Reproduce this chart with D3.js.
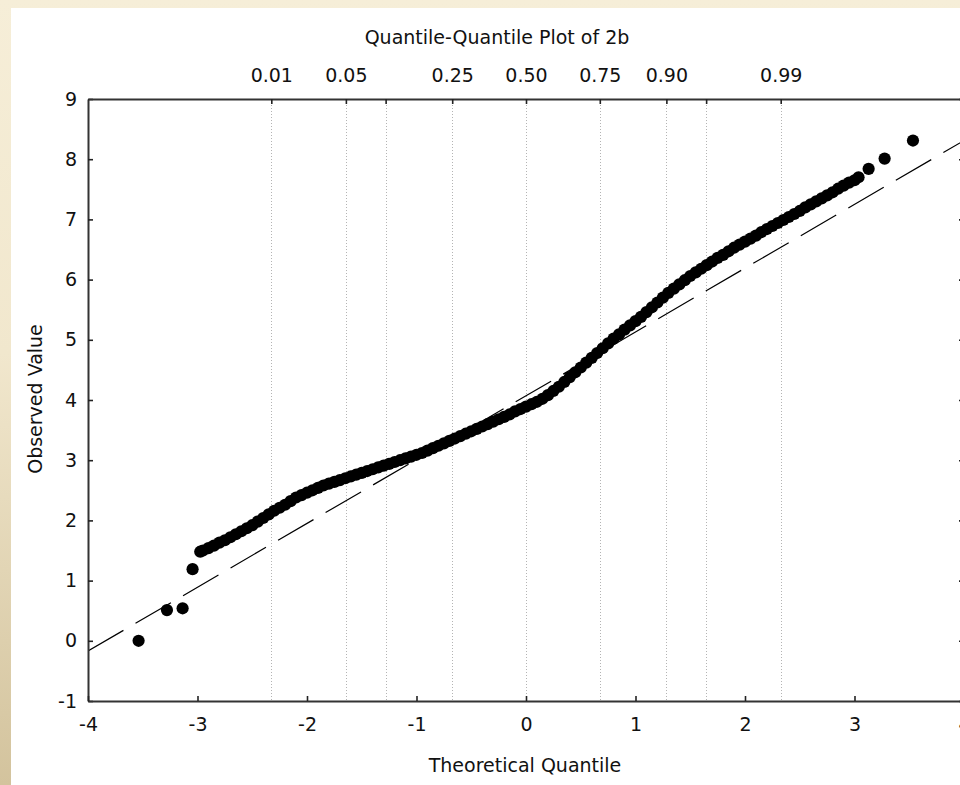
<!DOCTYPE html>
<html>
<head>
<meta charset="utf-8">
<script src="https://cdn.jsdelivr.net/npm/d3@7"></script>
<style>
  html, body { margin: 0; padding: 0; background: #F4EBD3; }
  svg { display: block; }
  text { font-family: "DejaVu Sans", Verdana, sans-serif; fill: #111; }
</style>
</head>
<body>
<svg id="chart" width="960" height="785"></svg>
<script>
// ---------------- DATA ----------------
const chartTitle = "Quantile-Quantile Plot of 2b";
const xTitle = "Theoretical Quantile";
const yTitle = "Observed Value";

const xTicks = [-4, -3, -2, -1, 0, 1, 2, 3, 4];
const yTicks = [-1, 0, 1, 2, 3, 4, 5, 6, 7, 8, 9];

// top axis: normal quantiles of the cumulative probabilities
const probTickZ = [-2.326, -1.645, -1.282, -0.674, 0, 0.674, 1.282, 1.645, 2.326];
const probTickLabels = ["0.01", "0.05", "", "0.25", "0.50", "0.75", "0.90", "", "0.99"];

// reference (fitted normal) line: observed = intercept + slope * theoretical
const lineIntercept = 4.07;
const lineSlope = 1.06;

const theoretical = [
  -3.538, -3.279, -3.136, -3.045, -2.975,
  -2.95, -2.90, -2.85, -2.80, -2.75, -2.70, -2.65, -2.60, -2.55, -2.50,
  -2.45, -2.40, -2.35, -2.30, -2.25, -2.20, -2.15, -2.10, -2.05, -2.00,
  -1.95, -1.90, -1.85, -1.80, -1.75, -1.70, -1.65, -1.60, -1.55, -1.50,
  -1.45, -1.40, -1.35, -1.30, -1.25, -1.20, -1.15, -1.10, -1.05, -1.00,
  -0.95, -0.90, -0.85, -0.80, -0.75, -0.70, -0.65, -0.60, -0.55, -0.50,
  -0.45, -0.40, -0.35, -0.30, -0.25, -0.20, -0.15, -0.10, -0.05, 0.00,
  0.05, 0.10, 0.15, 0.20, 0.25, 0.30, 0.35, 0.40, 0.45, 0.50,
  0.55, 0.60, 0.65, 0.70, 0.75, 0.80, 0.85, 0.90, 0.95, 1.00,
  1.05, 1.10, 1.15, 1.20, 1.25, 1.30, 1.35, 1.40, 1.45, 1.50,
  1.55, 1.60, 1.65, 1.70, 1.75, 1.80, 1.85, 1.90, 1.95, 2.00,
  2.05, 2.10, 2.15, 2.20, 2.25, 2.30, 2.35, 2.40, 2.45, 2.50,
  2.55, 2.60, 2.65, 2.70, 2.75, 2.80, 2.85, 2.90, 2.95, 3.00,
  3.037, 3.129, 3.275, 3.534
];
const observed = [
  0.00, 0.51, 0.54, 1.19, 1.48,
  1.50, 1.54, 1.58, 1.63, 1.67, 1.72, 1.77, 1.82, 1.87, 1.92,
  1.98, 2.04, 2.10, 2.16, 2.21, 2.26, 2.32, 2.38, 2.42, 2.46,
  2.50, 2.54, 2.58, 2.61, 2.64, 2.67, 2.70, 2.73, 2.76, 2.79,
  2.82, 2.85, 2.88, 2.91, 2.94, 2.97, 3.00, 3.03, 3.06, 3.09,
  3.12, 3.16, 3.20, 3.24, 3.28, 3.32, 3.36, 3.40, 3.44, 3.48,
  3.52, 3.56, 3.60, 3.64, 3.68, 3.72, 3.76, 3.81, 3.85, 3.89,
  3.93, 3.97, 4.02, 4.08, 4.15, 4.22, 4.30, 4.38, 4.46, 4.54,
  4.62, 4.70, 4.78, 4.86, 4.94, 5.02, 5.09, 5.17, 5.24, 5.31,
  5.38, 5.46, 5.54, 5.62, 5.70, 5.78, 5.85, 5.92, 5.99, 6.06,
  6.12, 6.18, 6.24, 6.30, 6.36, 6.41, 6.47, 6.53, 6.58, 6.63,
  6.68, 6.73, 6.79, 6.84, 6.89, 6.94, 6.99, 7.04, 7.09, 7.14,
  7.20, 7.25, 7.30, 7.35, 7.40, 7.45, 7.51, 7.56, 7.61, 7.65,
  7.70, 7.84, 8.01, 8.31
];

// ---------------- DRAW ----------------
const W = 960, H = 785;
const svg = d3.select("#chart");

// background frame gradient
const defs = svg.append("defs");
const grad = defs.append("linearGradient").attr("id", "bg").attr("x1", 0).attr("y1", 0).attr("x2", 0).attr("y2", 1);
grad.append("stop").attr("offset", "0%").attr("stop-color", "#F6EED8");
grad.append("stop").attr("offset", "45%").attr("stop-color", "#F1E7CD");
grad.append("stop").attr("offset", "100%").attr("stop-color", "#D3C39D");
svg.append("rect").attr("width", W).attr("height", H).attr("fill", "url(#bg)");
svg.append("rect").attr("x", 11).attr("y", 8).attr("width", W - 11).attr("height", H - 8).attr("fill", "#fff");

const plot = { left: 88, right: 964, top: 99, bottom: 701 };
const x = d3.scaleLinear().domain([-4, 4]).range([plot.left, plot.right]);
const y = d3.scaleLinear().domain([-1, 9]).range([plot.bottom, plot.top]);

defs.append("clipPath").attr("id", "clip")
  .append("rect").attr("x", plot.left).attr("y", plot.top)
  .attr("width", plot.right - plot.left).attr("height", plot.bottom - plot.top);

// dotted grid lines at probability quantiles
svg.append("g").selectAll("line").data(probTickZ).join("line")
  .attr("x1", d => Math.round(x(d)) + 0.5).attr("x2", d => Math.round(x(d)) + 0.5)
  .attr("y1", plot.top).attr("y2", plot.bottom)
  .attr("stroke", "#b4b4b4").attr("stroke-width", 1).attr("stroke-dasharray", "1,2");

// reference dashed line
const lineData = [-4, 4].map(t => [t, lineIntercept + lineSlope * t]);
svg.append("path")
  .attr("clip-path", "url(#clip)")
  .attr("d", d3.line().x(d => x(d[0])).y(d => y(d[1]))(lineData))
  .attr("fill", "none").attr("stroke", "#000").attr("stroke-width", 1.2)
  .attr("stroke-dasharray", "41,14");

// points
const pts = theoretical.map((t, i) => ({ t, v: observed[i] }));
svg.append("g").attr("clip-path", "url(#clip)")
  .selectAll("circle").data(pts).join("circle")
  .attr("cx", d => x(d.t)).attr("cy", d => y(d.v)).attr("r", 6.1)
  .attr("fill", "#000");

// axes
const fs = "19px";
const fmt = d => String(d);
function styleAxis(g) {
  g.select(".domain").attr("stroke", "#333").attr("stroke-width", 2);
  g.selectAll(".tick line").attr("stroke", "#222").attr("stroke-width", 1.6);
  g.selectAll(".tick text").attr("font-family", "DejaVu Sans").style("font-size", fs).attr("fill", "#111");
}

svg.append("g").attr("transform", `translate(${plot.left},0)`)
  .call(d3.axisLeft(y).tickValues(yTicks).tickFormat(fmt).tickSizeInner(-5).tickSizeOuter(0).tickPadding(11))
  .call(styleAxis);

svg.append("g").attr("transform", `translate(${plot.right},0)`)
  .call(d3.axisRight(y).tickValues(yTicks).tickFormat("").tickSizeInner(-5).tickSizeOuter(0))
  .call(styleAxis);

svg.append("g").attr("transform", `translate(0,${plot.bottom})`)
  .call(d3.axisBottom(x).tickValues(xTicks).tickFormat(fmt).tickSizeInner(-5).tickSizeOuter(0).tickPadding(17))
  .call(styleAxis);

svg.append("g").attr("transform", `translate(0,${plot.top})`)
  .call(d3.axisTop(x).tickValues(probTickZ).tickFormat((d, i) => probTickLabels[i]).tickSizeInner(-5).tickSizeOuter(0).tickPadding(17))
  .call(styleAxis);

// titles
svg.append("text").attr("x", 497).attr("y", 44).attr("text-anchor", "middle")
  .style("font-size", fs).text(chartTitle);
svg.append("text").attr("x", 525).attr("y", 772).attr("text-anchor", "middle")
  .style("font-size", fs).text(xTitle);
svg.append("text").attr("transform", "translate(42,399) rotate(-90)").attr("text-anchor", "middle")
  .style("font-size", fs).text(yTitle);
</script>
</body>
</html>
